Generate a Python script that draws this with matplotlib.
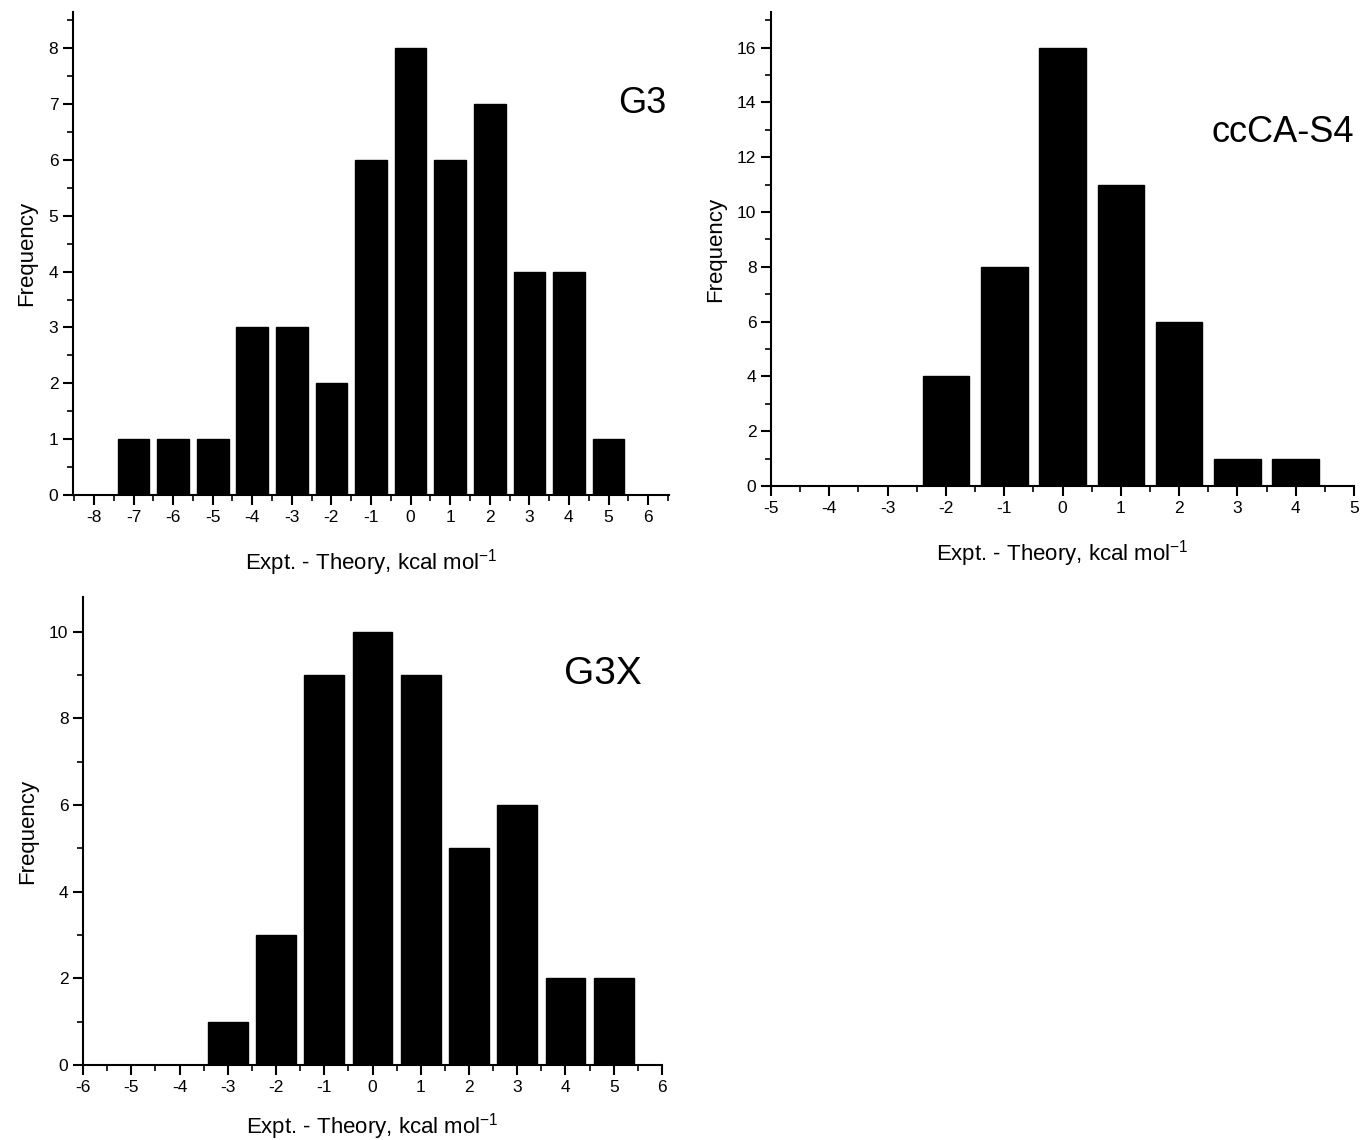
import matplotlib
matplotlib.use("Agg")
import matplotlib.pyplot as plt
from matplotlib.ticker import MultipleLocator

plt.rcParams["font.family"] = ["Liberation Sans", "DejaVu Sans"]
plt.rcParams["mathtext.default"] = "regular"
plt.rcParams["axes.unicode_minus"] = False

# G3 histogram
g3_x = [-7, -6, -5, -4, -3, -2, -1, 0, 1, 2, 3, 4, 5]
g3_freq = [1, 1, 1, 3, 3, 2, 6, 8, 6, 7, 4, 4, 1]

# ccCA-S4 histogram
ccca_x = [-2, -1, 0, 1, 2, 3, 4]
ccca_freq = [4, 8, 16, 11, 6, 1, 1]

# G3X histogram
g3x_x = [-3, -2, -1, 0, 1, 2, 3, 4, 5]
g3x_freq = [1, 3, 9, 10, 9, 5, 6, 2, 2]

XLABEL = "Expt. - Theory, kcal mol$^{-1}$"


def draw_panel(ax, x, freq, name, xlim, ylim, ymajor, yminor, name_pos,
               width=0.8, name_size=26, xpad=14):
    ax.bar(x, freq, width=width, color="black", edgecolor="black")
    ax.set_xlim(*xlim)
    ax.set_ylim(*ylim)
    ax.xaxis.set_major_locator(MultipleLocator(1))
    ax.xaxis.set_minor_locator(MultipleLocator(0.5))
    ax.yaxis.set_major_locator(MultipleLocator(ymajor))
    ax.yaxis.set_minor_locator(MultipleLocator(yminor))
    for side in ("top", "right"):
        ax.spines[side].set_visible(False)
    for side in ("left", "bottom"):
        ax.spines[side].set_linewidth(1.5)
    ax.tick_params(which="major", direction="out", length=7, width=1.5,
                   labelsize=12.5)
    ax.tick_params(which="minor", direction="out", length=4, width=1.2)
    ax.set_xlabel(XLABEL, fontsize=16, labelpad=xpad)
    ax.set_ylabel("Frequency", fontsize=16, labelpad=8)
    ax.text(name_pos[0], name_pos[1], name, transform=ax.transAxes,
            fontsize=name_size, ha="right", va="center")


fig = plt.figure(figsize=(13.61, 11.40), dpi=100)

ax1 = fig.add_axes([0.0536, 0.5658, 0.438, 0.4237])
draw_panel(ax1, g3_x, g3_freq, "G3", (-8.53, 6.53), (0, 8.65), 1, 0.5,
           (0.995, 0.81), xpad=16)

ax2 = fig.add_axes([0.5665, 0.5737, 0.4284, 0.4158])
draw_panel(ax2, ccca_x, ccca_freq, "ccCA-S4", (-5, 5), (0, 17.3), 2, 1,
           (1.0, 0.745), xpad=16)

ax3 = fig.add_axes([0.061, 0.0658, 0.4254, 0.4105])
draw_panel(ax3, g3x_x, g3x_freq, "G3X", (-6, 6), (0, 10.8), 2, 1,
           (0.965, 0.835), width=0.82, name_size=28, xpad=12)

fig.savefig("out.png", dpi=100)
